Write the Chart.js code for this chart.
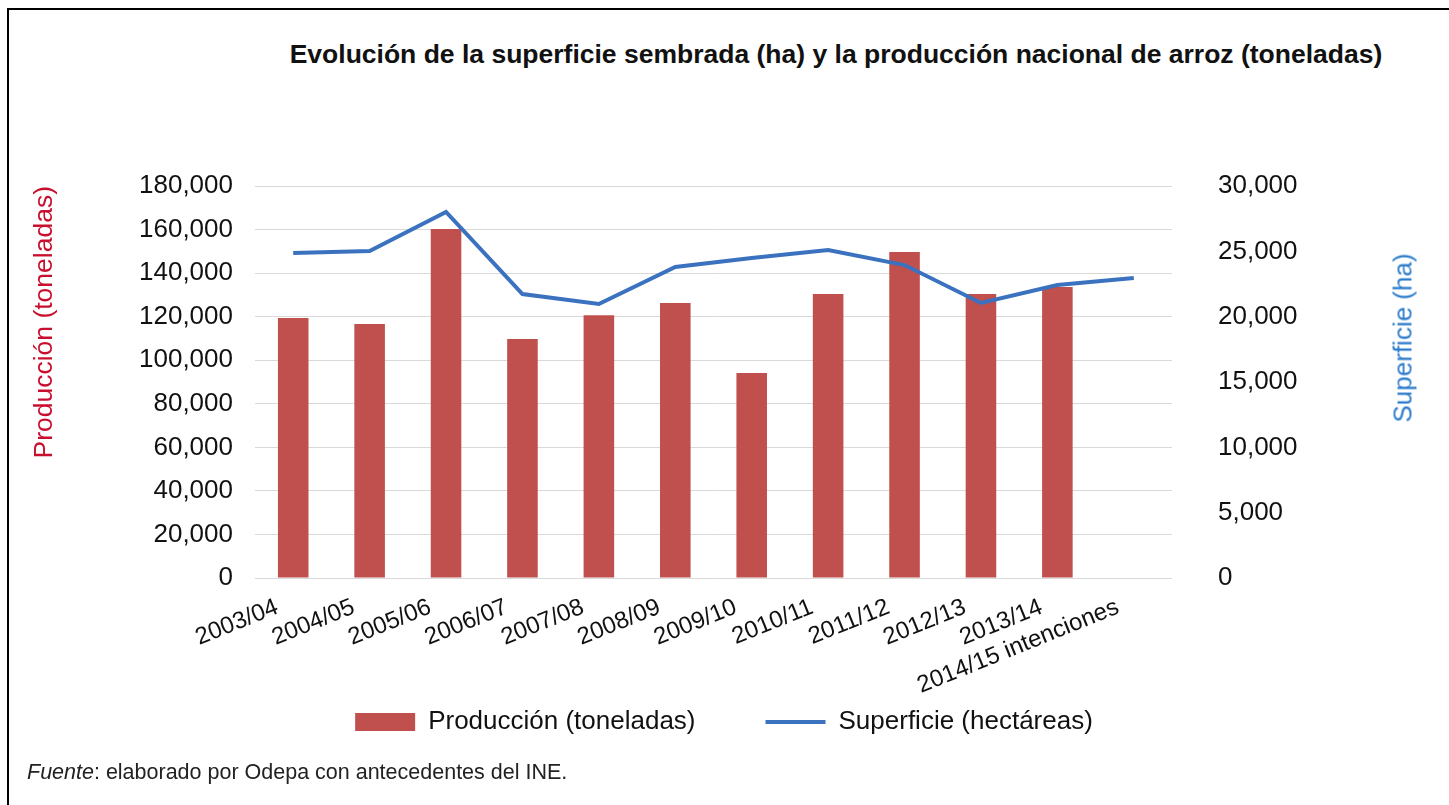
<!DOCTYPE html>
<html>
<head>
<meta charset="utf-8">
<script src="https://cdn.jsdelivr.net/npm/chart.js@4"></script>
<style>
  body { margin: 0; background: #fff; overflow: hidden; font-family: "Liberation Sans", Arial, sans-serif; }
  #frame { position: absolute; left: 7px; top: 8px; width: 1460px; height: 820px; border-left: 2px solid #000; border-top: 2px solid #000; }
  #wrap { position: absolute; left: 0; top: 0; width: 1449px; height: 805px; }
  #title { position: absolute; left: 836px; top: 39px; transform: translateX(-50%); white-space: nowrap; font-weight: bold; font-size: 26.5px; color: #111; }
  #ejeDer { position: absolute; left: 1403px; top: 338px; transform: translate(-50%, -50%) rotate(-90deg); white-space: nowrap; font-size: 26px; color: #2b7bcb; }
  #fuente { position: absolute; left: 27px; top: 760px; font-size: 21.5px; color: #222; white-space: nowrap; }
</style>
</head>
<body>
<div id="frame"></div>
<div id="title">Evolución de la superficie sembrada (ha) y la producción nacional de arroz (toneladas)</div>
<div id="wrap"><canvas id="chart"></canvas></div>
<div id="ejeDer">Superficie (ha)</div>
<div id="fuente"><i>Fuente</i>: elaborado por Odepa con antecedentes del INE.</div>
<script>
// campañas
const categorias = ['2003/04', '2004/05', '2005/06', '2006/07', '2007/08', '2008/09',
  '2009/10', '2010/11', '2011/12', '2012/13', '2013/14', '2014/15 intenciones'];
// toneladas (eje izquierdo)
const produccion = [119400, 116600, 160200, 109700, 120700, 126300, 94100, 130400, 149700, 130400, 133600, null];
// hectáreas (eje derecho)
const superficie = [24870, 25030, 28010, 21730, 20970, 23800, 24490, 25100, 23950, 21050, 22420, 22960];

const fmt = v => Number(v).toLocaleString('en-US');
const FONT = '"Liberation Sans", Arial, sans-serif';

// las etiquetas del eje x ocupan mucho; la leyenda se sube para quedar como en Excel
const subirLeyenda = {
  id: 'subirLeyenda',
  afterLayout(chart) {
    chart.legend.top -= 59;
    chart.legend.bottom -= 59;
  },
};

document.addEventListener('DOMContentLoaded', () => {
  const ctx = document.getElementById('chart').getContext('2d');
  new Chart(ctx, {
    data: {
      labels: categorias,
      datasets: [
        {
          type: 'bar',
          label: 'Producción (toneladas)',
          data: produccion,
          yAxisID: 'y',
          backgroundColor: '#c0504d',
          borderWidth: 0,
          barPercentage: 0.4,
          categoryPercentage: 1,
          pointStyle: 'rect',
          order: 1,
        },
        {
          type: 'line',
          label: 'Superficie (hectáreas)',
          data: superficie,
          yAxisID: 'y1',
          borderColor: '#3a72c0',
          backgroundColor: '#3a72c0',
          borderWidth: 4,
          pointRadius: 0,
          pointStyle: 'line',
          tension: 0,
          order: 0,
        },
      ],
    },
    plugins: [subirLeyenda],
    options: {
      responsive: true,
      maintainAspectRatio: false,
      animation: false,
      layout: { padding: { left: 29, right: 30, top: 186, bottom: 1 } },
      plugins: {
        title: { display: false },
        tooltip: { enabled: false },
        legend: {
          position: 'bottom',
          labels: {
            usePointStyle: true,
            pointStyleWidth: 60,
            boxHeight: 18,
            padding: 70,
            color: '#111',
            font: { family: FONT, size: 26 },
            sort: (a, b) => a.datasetIndex - b.datasetIndex,
          },
        },
      },
      scales: {
        x: {
          grid: { display: false },
          border: { display: false },
          ticks: {
            autoSkip: false,
            minRotation: 22,
            maxRotation: 22,
            labelOffset: -16,
            padding: 7,
            color: '#111',
            font: { family: FONT, size: 24 },
          },
          afterFit: s => { s.height = 120; },
        },
        y: {
          position: 'left',
          min: 0,
          max: 180000,
          grid: { color: '#d9d9d9', drawTicks: false },
          border: { display: false },
          ticks: {
            stepSize: 20000,
            padding: 22,
            color: '#111',
            font: { family: FONT, size: 26 },
            callback: v => fmt(v),
          },
          title: {
            display: true,
            text: 'Producción (toneladas)',
            align: 'end',
            color: '#c8102e',
            padding: 0,
            font: { family: FONT, size: 26.5 },
          },
          afterFit: s => { s.width = 226; },
        },
        y1: {
          position: 'right',
          min: 0,
          max: 30000,
          grid: { display: false, drawTicks: false },
          border: { display: false },
          ticks: {
            stepSize: 5000,
            padding: 46,
            color: '#111',
            font: { family: FONT, size: 26 },
            callback: v => fmt(v),
          },
          afterFit: s => { s.width = 247; },
        },
      },
    },
  });
});
</script>
</body>
</html>
